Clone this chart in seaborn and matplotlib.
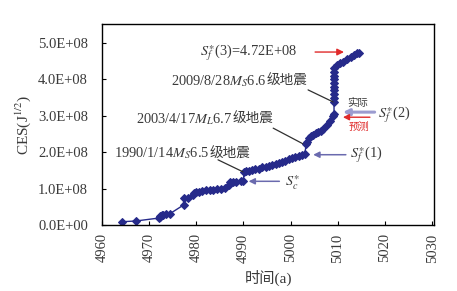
import matplotlib
matplotlib.use("Agg")
import matplotlib.pyplot as plt
import seaborn as sns
import pandas as pd
import numpy as np

# ---- data ----
years = [4964.2, 4967.2, 4972.0, 4972.2, 4972.4, 4972.7, 4973.0, 4973.6, 4974.4,
         4977.3, 4977.3, 4978.3, 4979.3, 4979.6, 4979.9, 4980.6, 4981.3, 4982.0,
         4982.8, 4983.6, 4984.4, 4985.2, 4986.0, 4986.9, 4987.2, 4987.8, 4988.5,
         4989.4, 4990.0, 4990.1, 4990.6, 4991.2, 4991.8, 4992.5, 4993.2, 4994.0,
         4994.7, 4995.4, 4996.1, 4996.8, 4997.5, 4998.2, 4998.9, 4999.6, 5000.3,
         5001.0, 5001.7, 5002.4, 5003.0, 5003.3, 5003.4, 5003.9, 5004.3, 5004.8,
         5005.3, 5005.8, 5006.4, 5006.9, 5007.8, 5008.3, 5009.0, 5009.2, 5009.2,
         5009.2, 5009.2, 5009.2, 5009.2, 5009.2, 5009.2, 5009.2, 5009.2, 5009.3,
         5009.8, 5010.5, 5011.2, 5012.0, 5012.8, 5013.5, 5014.0, 5014.4]
ces = [0.09, 0.11, 0.19, 0.22, 0.25, 0.27, 0.28, 0.30, 0.31,
       0.55, 0.73, 0.74, 0.82, 0.87, 0.90, 0.92, 0.94, 0.95,
       0.96, 0.97, 0.98, 0.99, 1.01, 1.10, 1.17, 1.18, 1.19,
       1.20, 1.21, 1.45, 1.47, 1.49, 1.51, 1.53, 1.55, 1.58,
       1.60, 1.63, 1.65, 1.68, 1.71, 1.74, 1.77, 1.80, 1.83,
       1.86, 1.89, 1.92, 1.95, 2.22, 2.29, 2.40, 2.45, 2.48,
       2.52, 2.55, 2.59, 2.63, 2.75, 2.85, 3.00, 3.05, 3.39,
       3.50, 3.60, 3.70, 3.80, 3.90, 4.00, 4.10, 4.20, 4.32,
       4.40, 4.44, 4.49, 4.56, 4.62, 4.68, 4.72, 4.73]
ces = [v * 1e8 for v in ces]

x_ticks = [4960, 4970, 4980, 4990, 5000, 5010, 5020, 5030]
y_ticks = [0, 1e8, 2e8, 3e8, 4e8, 5e8]
y_tick_labels = ["0.0E+00", "1.0E+08", "2.0E+08", "3.0E+08", "4.0E+08", "5.0E+08"]

df = pd.DataFrame({"year": years, "ces": ces})

# ---- style ----
sns.set_style("ticks")
plt.rcParams['font.family'] = ['Liberation Serif', 'Noto Sans CJK SC', 'DejaVu Sans']
plt.rcParams['mathtext.fontset'] = 'stix'

TXT = '#3a3a3a'
BLUE = '#262a8a'
ARW = '#6a6aae'
RED = '#e02a2a'

fig = plt.figure(figsize=(4.57, 2.91), dpi=100)
ax = fig.add_axes([102/457, 1-225/291, (434-102)/457, (225-24)/291])

sns.lineplot(data=df, x="year", y="ces", estimator=None, sort=False, ax=ax,
             color=BLUE, lw=1.0, marker='D', markersize=3.6,
             markeredgecolor=BLUE, markerfacecolor=BLUE)

ax.set_xlim(4960, 5030.4)
ax.set_ylim(0, 5.52e8)
ax.set_xticks(x_ticks)
ax.set_xticklabels([str(t) for t in x_ticks], rotation=90, fontsize=10.5, color=TXT)
ax.set_yticks(y_ticks)
ax.set_yticklabels(y_tick_labels, fontsize=10.5, color=TXT)
ax.tick_params(direction='in', length=3, width=0.8, colors='black', labelcolor=TXT)
ax.tick_params(axis='y', pad=10)
ax.tick_params(axis='x', pad=6)
for s in ax.spines.values():
    s.set_visible(True)
    s.set_color('black')
    s.set_linewidth(1.0)

ax.set_xlabel("时间(a)", fontsize=11, color=TXT, labelpad=5)
ax.set_ylabel(r"CES(J$^{1/2}$)", fontsize=11, color=TXT, labelpad=4)

# ---- annotations ----
fs = 10.4


def mixed_label(x_right, y, math_part, cjk_part):
    t2 = ax.text(x_right, y, cjk_part, ha='right', va='baseline', fontsize=fs - 0.6,
                 color=TXT, family=['Noto Sans CJK SC'])
    ax.annotate(math_part, xy=(0, y), xycoords=(t2, 'data'), ha='right', va='baseline',
                fontsize=fs, color=TXT)


ax.text(5001.4, 4.67e8, r"$S_f^{\ast}$(3)=4.72E+08", ha='right', va='baseline', fontsize=fs, color=TXT)
ax.annotate("", xy=(5011.9, 4.75e8), xytext=(5004.6, 4.75e8),
            arrowprops=dict(arrowstyle='-|>', color=RED, lw=1.0, mutation_scale=10))

mixed_label(5003.6, 3.85e8, r"2009/8/28$M_S$6.6", "级地震")
ax.plot([5003.7, 5009.0], [3.71e8, 3.38e8], color='#303030', lw=0.9)

mixed_label(4996.3, 2.80e8, r"2003/4/17$M_L$6.7", "级地震")
ax.plot([4996.3, 5002.6], [2.66e8, 2.23e8], color='#303030', lw=0.9)

mixed_label(4991.4, 1.85e8, r"1990/1/14$M_S$6.5", "级地震")
ax.plot([4984.6, 4989.9], [1.79e8, 1.46e8], color='#303030', lw=0.9)

ax.annotate("", xy=(4990.5, 1.20e8), xytext=(4998.2, 1.20e8),
            arrowprops=dict(arrowstyle='-|>', color=ARW, lw=1.1, mutation_scale=9))
ax.text(4998.7, 1.16e8, r"$S_c^{\ast}$", ha='left', va='center', fontsize=fs, color=TXT)

ax.annotate("", xy=(5004.2, 1.93e8), xytext=(5012.3, 1.93e8),
            arrowprops=dict(arrowstyle='-|>', color=ARW, lw=1.1, mutation_scale=9))
ax.text(5012.6, 1.92e8, r"$S_f^{\ast}$(1)", ha='left', va='center', fontsize=fs, color=TXT)

ax.annotate("", xy=(5010.5, 3.10e8), xytext=(5018.4, 3.10e8),
            arrowprops=dict(arrowstyle='-|>', color='#9c9cd0', lw=2.2, mutation_scale=9))
ax.annotate("", xy=(5010.5, 2.96e8), xytext=(5017.4, 2.96e8),
            arrowprops=dict(arrowstyle='-|>', color=RED, lw=1.0, mutation_scale=9))
ax.text(5018.5, 3.03e8, r"$S_f^{\ast}$(2)", ha='left', va='center', fontsize=fs, color=TXT)
ax.text(5014.3, 3.36e8, "实际", ha='center', va='center', fontsize=7.5, color=TXT,
        family=['Noto Sans CJK SC'])
ax.text(5014.4, 2.69e8, "预测", ha='center', va='center', fontsize=7.5, color=RED,
        family=['Noto Sans CJK SC'])

fig.savefig("out.png", dpi=100, facecolor='white')
